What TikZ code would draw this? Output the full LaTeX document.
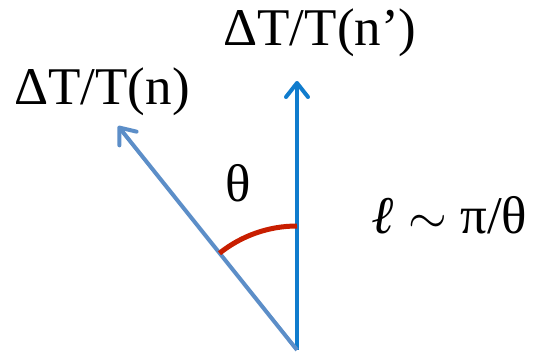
\documentclass[tikz,border=0pt]{standalone}
\usepackage{fontspec}
\setmainfont{Liberation Serif}
\usetikzlibrary{arrows.meta}
\definecolor{vecblue}{RGB}{16,124,205}
\definecolor{steelvec}{RGB}{92,142,200}
\definecolor{arcred}{RGB}{200,30,0}

\begin{document}
\begin{tikzpicture}[x=0.5pt,y=-0.5pt,font=\fontsize{26.5}{30}\selectfont,
  vec/.style={line width=2pt,-{Straight Barb[length=7pt,width=11pt,round]}}]
  \useasboundingbox (0,0) rectangle (534,353);
  % Coordinates
  \coordinate (O) at (297,350);
  \coordinate (nP) at (297,81);
  \coordinate (n) at (118,126);
  % Vectors
  \draw[vec,draw=vecblue] (O)--(nP);
  \draw[vec,draw=steelvec] (O)--(n);
  % Angle
  \draw[arcred,line width=2.5pt] (O) ++(270:124) arc[start angle=270,end angle=231.3,radius=124];
  % Labels
  \node (lblnP) at (320,33) {ΔT/T(n’)};
  \node (lbln) at (102,92) {ΔT/T(n)};
  \node (theta) at (238,183) {θ};
  \node (ell) at (450,215) {\textit{\textbf{ℓ}} $\sim$ π/θ};
\end{tikzpicture}
\end{document}
